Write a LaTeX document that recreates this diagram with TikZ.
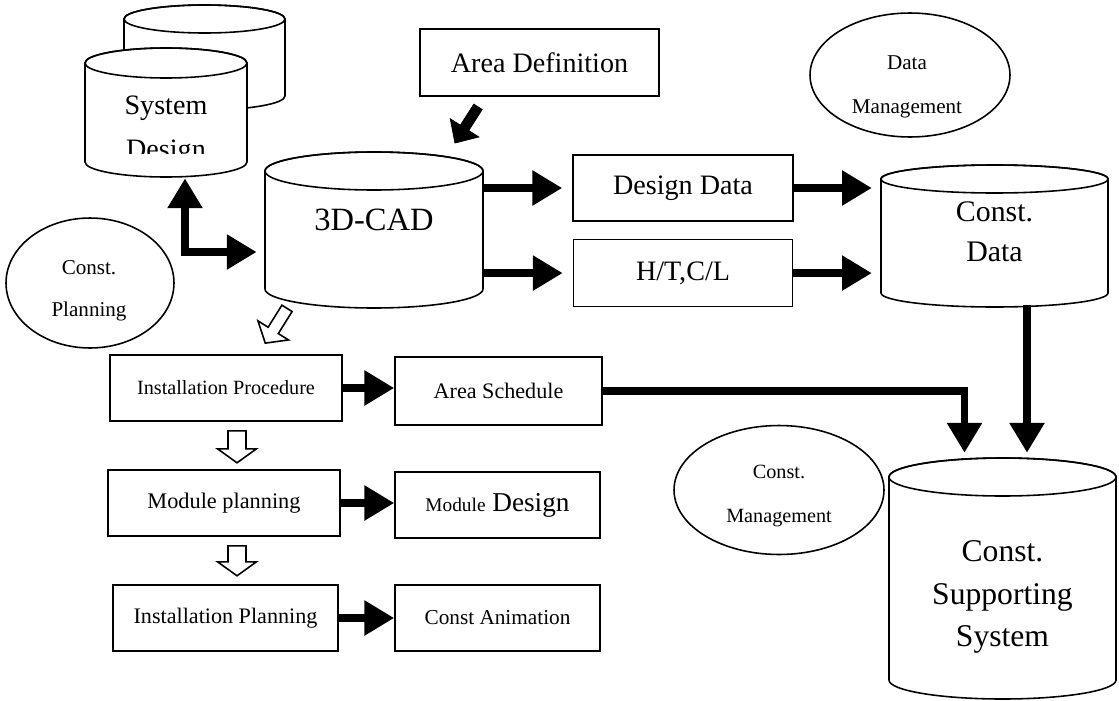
\documentclass[tikz,border=0pt]{standalone}
\usepackage{fontspec}
\setmainfont{Liberation Serif}
\usetikzlibrary{arrows.meta,positioning,calc,shapes.geometric,fit}

\newcommand{\fsz}[2]{\fontsize{#1}{#2}\selectfont}

% drum: name, left, right, top, bottom, ry
\newcommand{\drum}[6]{%
  \draw[line width=0.9pt,fill=white] (#2,{-(#4+#6)}) -- (#2,{-(#5-#6)})
    arc[start angle=180,end angle=360,x radius={(#3-#2)/2},y radius=#6]
    -- (#3,{-(#4+#6)})
    arc[start angle=0,end angle=180,x radius={(#3-#2)/2},y radius=#6] -- cycle;
  \draw[line width=0.9pt] ({(#2+#3)/2},{-(#4+#6)}) ellipse[x radius={(#3-#2)/2},y radius=#6];
  \node[fit={(#2,-#4) (#3,-#5)},inner sep=0pt] (#1) {};
}

% block arrow: style, tail, angle, length, shaft half width, head half width, head length
\newcommand{\blockarrow}[7]{%
  \draw[#1,shift={#2},rotate=#3] (0,-#5) -- ({#4-#7},-#5) -- ({#4-#7},-#6) -- (#4,0)
    -- ({#4-#7},#6) -- ({#4-#7},#5) -- (0,#5) -- cycle;
}

\begin{document}
\begin{tikzpicture}[
  x=0.02cm,y=0.02cm,
  box/.style={draw,line width=0.9pt,minimum width=4.4cm,minimum height=1.32cm,inner sep=0pt},
  oval/.style={draw,ellipse,line width=0.9pt,inner sep=0pt},
  fat/.style={line width=4.3pt,-{Triangle[length=17pt,width=19pt]}},
  hollow/.style={draw,line width=0.9pt,fill=white},
  blk/.style={fill=black},
]
\useasboundingbox (0,0) rectangle (1119,-700);

%% ===== System Design (stacked drums) =========================================
\drum{sdback}{124}{285}{5}{110}{14}
\drum{sd}{85}{247}{48}{177}{15}
\node[font=\fsz{16}{19}] (sd1) at (166,-108) {System};
\begin{scope}
  \clip (85,-60) rectangle (247,-153);
  \node[font=\fsz{16}{19}] (sd2) at (166,-152) {Design};
\end{scope}

%% ===== 3D-CAD ================================================================
\drum{cad}{265}{483}{152}{308}{19}
\node[font=\fsz{18.5}{22}] (cadt) at (374,-220) {3D-CAD};
\draw[fat,{Triangle[length=17pt,width=19pt]}-{Triangle[length=17pt,width=19pt]}]
  ($(sd.south)+(19,-1)$) |- ($(cad.west)+(-8,-22)$);

%% ===== Area Definition =======================================================
\node[box,minimum width=4.78cm,minimum height=1.34cm,font=\fsz{16}{19}] (ad) at (539.5,-62.5) {Area Definition};
\blockarrow{blk}{($(ad.south)+(-61.5,-10)$)}{-122.5}{43}{5}{17}{18}

%% ===== Design data outputs ===================================================
\node[box,minimum width=4.4cm,font=\fsz{16}{19}] (dd) at (683,-188) {Design Data};
\node[box,minimum width=4.38cm,minimum height=1.34cm,font=\fsz{16}{19},below=0.34cm of dd] (ht) {H/T,C/L};
\draw[fat,shorten >=5.7pt] (cad.east |- dd.west) -- (dd.west);
\draw[fat,shorten >=5.7pt] (cad.east |- ht.west) -- (ht.west);

%% ===== Const. Data ===========================================================
\drum{cdata}{881}{1108}{165}{307}{14}
\node[font=\fsz{17}{22.7},align=center] (cdatat) at (994.5,-232) {Const.\\Data};
\draw[fat,shorten >=5pt] (dd.east) -- (dd.east -| cdata.west);
\draw[fat,shorten >=5pt] (ht.east) -- (ht.east -| cdata.west);

%% ===== Const. Supporting System ==============================================
\drum{css}{889}{1116}{458}{699}{19}
\node[font=\fsz{18}{24},align=center] (csst) at (1002.5,-597) {Const.\\Supporting\\System};
\draw[fat,shorten >=2.8pt] ($(cdata.south)+(32.5,2)$) coordinate (cd1) -- (cd1 |- css.north);

%% ===== Planning chain ========================================================
\node[box,minimum width=4.64cm,font=\fsz{11.5}{14}] (ip) at (226,-388) {Installation Procedure};
\node[box,minimum width=4.14cm,minimum height=1.36cm,font=\fsz{12.6}{15}] (as) at (498.5,-391) {Area Schedule};
\node[box,minimum width=4.64cm,font=\fsz{12.7}{15}] (mp) at (224,-503) {Module planning};
\node[box,minimum width=4.1cm,font=\fsz{15.5}{18}] (md) at (497.5,-505) {{\fsz{11}{13}Module} Design};
\node[box,minimum width=4.5cm,font=\fsz{12.6}{15}] (ipl) at (225.5,-618) {Installation Planning};
\node[box,minimum width=4.1cm,font=\fsz{12.1}{15}] (ca) at (497.5,-618) {Const Animation};

\draw[fat] (ip.east) -- (ip.east -| as.west);
\draw[fat] (mp.east) -- (mp.east -| md.west);
\draw[fat] (ipl.east) -- (ipl.east -| ca.west);
\draw[fat,shorten >=2.8pt] (as.east) -| ($(css.north)+(-38,0)$);

\blockarrow{hollow}{($(cad.south)+(-87,0)$)}{-122}{41}{6}{18}{15}
\blockarrow{hollow}{($(ip.south)+(11,-9)$)}{-90}{32}{9}{19.5}{14}
\blockarrow{hollow}{($(mp.south)+(13,-9)$)}{-90}{30}{9}{19.5}{14}

%% ===== Management ovals ======================================================
\node[oval,minimum width=4cm,minimum height=2.48cm] (dm) at (910,-75) {};
\node[font=\fsz{12}{25},align=center] (dmt) at (907,-87) {Data\\Management};
\node[oval,minimum width=4.2cm,minimum height=2.58cm] (cm) at (779,-490) {};
\node[font=\fsz{11.5}{25.5},align=center] (cmt) at (779,-496) {Const.\\Management};
\node[oval,minimum width=3.36cm,minimum height=2.6cm] (cp) at (90,-283) {};
\node[font=\fsz{12}{24},align=center] (cpt) at (89,-291) {Const.\\Planning};

\end{tikzpicture}
\end{document}
